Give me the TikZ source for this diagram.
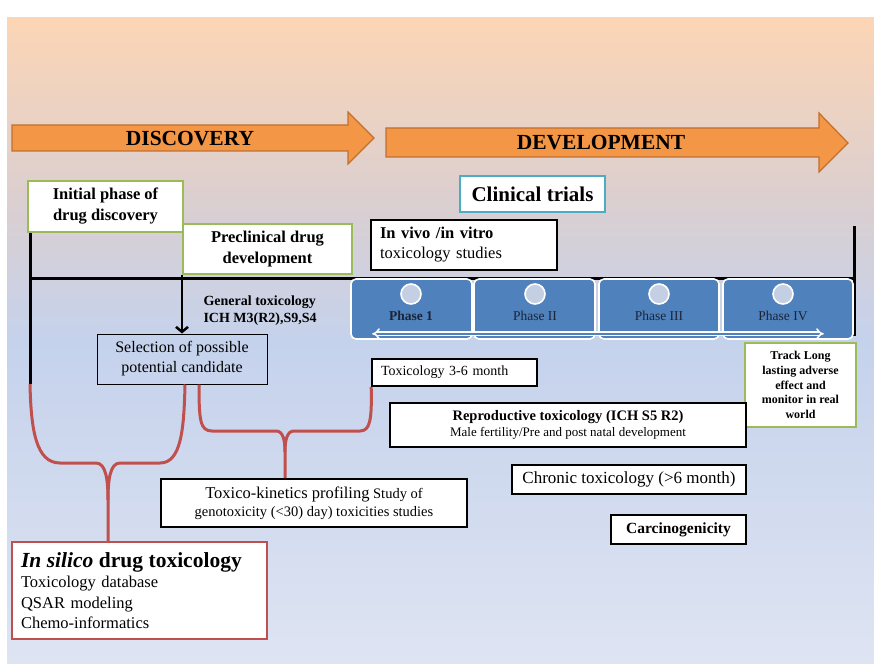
\documentclass[tikz,border=0pt]{standalone}
\usepackage{fontspec}
\setmainfont{Liberation Serif}
\usepackage{xcolor}
\usepackage{tikz}
\usetikzlibrary{arrows.meta,shapes,positioning}
\definecolor{arroworange}{HTML}{F39646}
\definecolor{arrowedge}{HTML}{C0702F}
\definecolor{boxgreen}{HTML}{9BBB59}
\definecolor{boxcyan}{HTML}{4BACC6}
\definecolor{boxred}{HTML}{C0504D}
\definecolor{phaseblue}{HTML}{4F81BD}
\definecolor{dotfill}{HTML}{C5CFE4}
\definecolor{phasetext}{HTML}{1B2436}
\definecolor{bgtop}{HTML}{FCD5B5}
\definecolor{bgupper}{HTML}{DBCFD0}
\definecolor{bgmid}{HTML}{C5D2EC}
\definecolor{bgbot}{HTML}{DEE4F2}
\newcommand{\fsz}[2]{\fontsize{#1}{#2}\selectfont}

\begin{document}
\begin{tikzpicture}[x=1pt,y=-1pt,
    tbox/.style={draw=black, line width=1.6pt, fill=white, inner sep=0pt},
    gbox/.style={draw=boxgreen, line width=2pt, fill=white, inner sep=0pt, align=center},
    phasebox/.style={draw=white, line width=1.6pt, fill=phaseblue, rounded corners=5pt, minimum height=60pt},
    phasedot/.style={circle, draw=white, line width=1.6pt, fill=dotfill, minimum size=20pt, inner sep=0pt},
    phaselabel/.style={text=phasetext, font=\fsz{13.5}{16}},
    brace/.style={draw=boxred, line width=3pt},
    bigarrow/.style={fill=arroworange, draw=arrowedge, line width=1.2pt},
    timeline/.style={draw=black, line width=3pt}]
                    \useasboundingbox (0,0) rectangle (874,663);
                    \fill[white] (0,0) rectangle (874,663);
                    \shade[top color=bgtop, bottom color=bgupper] (7,18) rectangle (874,201);
                    \shade[top color=bgupper, bottom color=bgmid] (7,200) rectangle (874,341);
                    \shade[top color=bgmid, bottom color=bgbot] (7,340) rectangle (874,663);

                    \draw[bigarrow] (12,125) -- (348,125) -- (348,112) -- (374,138) -- (348,164) -- (348,151) -- (12,151) -- cycle;
                    \node[font=\fsz{21.5}{24}\bfseries] (disc) at (190,139) {DISCOVERY};
                    \draw[bigarrow] (386,128) -- (819,128) -- (819,113) -- (848,143) -- (819,172) -- (819,157) -- (386,157) -- cycle;
                    \node[font=\fsz{21.5}{24}\bfseries] (dev) at (601,143) {DEVELOPMENT};

                    \coordinate (ltop) at (30,232);
                    \coordinate (lbot) at (30,384);
                    \coordinate (hleft) at (30,278);
                    \coordinate (hright) at (855,278);
                    \coordinate (rtop) at (854,226);
                    \coordinate (rbot) at (854,336);
                    \draw[timeline] (ltop) -- (lbot);
                    \draw[timeline] (hleft) -- (hright);
                    \draw[timeline] (rtop) -- (rbot);

                    \node[gbox, minimum width=155pt, minimum height=51pt, font=\fsz{16.5}{21}\bfseries] (init) at (105.5,206.5) {Initial phase of\\drug discovery};
                    \node[gbox, minimum width=169pt, minimum height=50pt, font=\fsz{16.5}{21}\bfseries] (precl) at (267.5,249) {Preclinical drug\\development};
                    \node[draw=boxcyan, line width=2pt, fill=white, minimum width=145pt, minimum height=36pt, font=\fsz{21}{24}\bfseries] (clin) at (532.5,194) {Clinical trials};
                    \node[tbox, text width=168pt, inner xsep=9pt, minimum height=50pt, align=left, font=\fsz{16.5}{20}] (vivo) at (464,245) {\textbf{In vivo /in vitro}\\toxicology studies};

                    \node[anchor=west, align=left, font=\fsz{14}{17}\bfseries] (gtox) at (200,311) {General toxicology\\ICH M3(R2),S9,S4};
                    \node[draw=black, line width=1pt, minimum width=170pt, minimum height=50pt, align=center, font=\fsz{16}{20}] (sel) at (182,359) {Selection of possible\\potential candidate};
                    \draw[line width=2.5pt, -{Straight Barb[length=5pt,width=12pt]}] (precl.south west) -- (precl.south west |- sel.north);

                    \node[phasebox, minimum width=121pt] (ph1) at (411.5,309) {};
                    \node[phasebox, minimum width=121pt] (ph2) at (534.5,309) {};
                    \node[phasebox, minimum width=120pt] (ph3) at (659,309) {};
                    \node[phasebox, minimum width=130pt] (ph4) at (788,309) {};
                    \node[phasedot] (dot1) at (411,294) {};
                    \node[phasedot] (dot2) at (535,294) {};
                    \node[phasedot] (dot3) at (659,294) {};
                    \node[phasedot] (dot4) at (783,294) {};
                    \node[phaselabel, font=\fsz{13.5}{16}\bfseries] (lab1) at (411,316) {Phase 1};
                    \node[phaselabel] (lab2) at (535,316) {Phase II};
                    \node[phaselabel] (lab3) at (659,316) {Phase III};
                    \node[phaselabel] (lab4) at (783,316) {Phase IV};
                    \draw[white, double=phaseblue, double distance=2pt, line width=1.6pt, {Implies}-{Implies}] ([shift={(22,-6)}]ph1.south west) -- ([shift={(-30,-6)}]ph4.south east);

                    \node[gbox, minimum width=111pt, minimum height=84pt, font=\fsz{12}{14.7}\bfseries] (track) at (800.5,385) {Track Long\\lasting adverse\\effect and\\monitor in real\\world};
                    \node[tbox, text width=147pt, inner xsep=9pt, minimum height=27pt, align=left, font=\fsz{14}{16}] (tox36) at (454.5,372.5) {Toxicology 3-6 month};
                    \node[tbox, minimum width=356pt, minimum height=44pt, align=center, font=\fsz{13}{15.5}] (repro) at (568,425) {{\fsz{14.5}{16}\bfseries Reproductive toxicology (ICH S5 R2)}\\Male fertility/Pre and post natal development};
                    \node[tbox, minimum width=234pt, minimum height=29pt, font=\fsz{17}{20}] (chron) at (629,479.5) {Chronic toxicology (>6 month)};
                    \node[tbox, minimum width=135pt, minimum height=29pt, font=\fsz{15.5}{18}\bfseries] (carc) at (678.5,529.5) {Carcinogenicity};
                    \node[tbox, minimum width=306pt, minimum height=48pt, align=center, font=\fsz{14.5}{18}] (tk) at (314,503) {{\fsz{16.5}{18}Toxico-kinetics profiling} Study of\\genotoxicity (<30) day) toxicities studies};
                    \node[draw=boxred, line width=2pt, fill=white, inner sep=0pt, text width=237pt, inner xsep=9pt, minimum height=97pt, align=left, font=\fsz{16.5}{20.5}] (insil) at (139.5,590.5) {{\fsz{21.5}{25}\bfseries\textit{In silico} drug toxicology}\\Toxicology database\\QSAR modeling\\Chemo-informatics};

                    \draw[brace] (lbot) .. controls (31,430) and (36,463) .. (60,463) -- (96,463) .. controls (106,463) and (108,480) .. (108,500) -- (insil.north west -| 108,0);
                    \draw[brace] ([xshift=3pt]sel.south) .. controls (184,430) and (181,463) .. (160,463) -- (120,463) .. controls (110,463) and (108,480) .. (108,500);
                    \draw[brace] ([xshift=17pt]sel.south) .. controls (199,420) and (200,431) .. (212,431) -- (276,431) .. controls (283,431) and (285,440) .. (285,452) -- (tk.north west -| 285,0);
                    \draw[brace] (tox36.south west) .. controls (372,420) and (370,431) .. (360,431) -- (294,431) .. controls (287,431) and (285,440) .. (285,452);
\end{tikzpicture}
\end{document}
